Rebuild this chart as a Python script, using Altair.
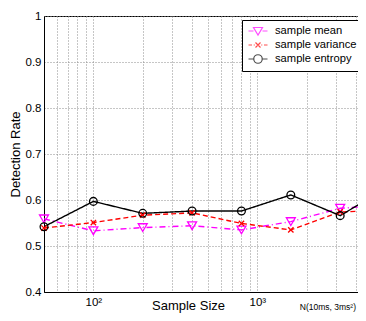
import altair as alt
import pandas as pd

sample_sizes = [50, 100, 200, 400, 800, 1600, 3200, 6400]
sample_mean = [0.559, 0.533, 0.540, 0.544, 0.535, 0.553, 0.582, 0.589]
sample_variance = [0.539, 0.551, 0.567, 0.572, 0.549, 0.535, 0.574, 0.578]
sample_entropy = [0.542, 0.597, 0.571, 0.576, 0.576, 0.611, 0.566, 0.630]

series_names = ["sample mean", "sample variance", "sample entropy"]
series_colors = ["#ff00ff", "#ff0000", "#000000"]
series_dash = [[6, 3, 1, 3], [5, 3], [1, 0]]
series_shapes = ["triangle-down", "M-0.8,-0.8L0.8,0.8M-0.8,0.8L0.8,-0.8", "circle"]
series_sizes = [80, 45, 60]
legend_paths = [
    "M-1.9,0L-0.9,0M0.9,0L1.9,0M-0.9,-0.7L0.9,-0.7L0,0.8Z",
    "M-1.9,0L-1.2,0M-0.85,0L-0.65,0M0.65,0L0.85,0M1.2,0L1.9,0"
    "M-0.5,-0.5L0.5,0.5M-0.5,0.5L0.5,-0.5",
    "M-1.9,0L-0.85,0M0.85,0L1.9,0M0.85,0A0.85,0.85 0 1,1 -0.85,0A0.85,0.85 0 1,1 0.85,0",
]

y_ticks = [0.4, 0.5, 0.6, 0.7, 0.8, 0.9, 1.0]
x_grid = [50, 60, 70, 80, 90, 100, 200, 300, 400, 500, 600, 700, 800, 900,
          1000, 2000, 3000, 4000]
note_text = ["N(10ms, 3ms²)"]

rows = []
for name, vals in zip(series_names, [sample_mean, sample_variance, sample_entropy]):
    for n, v in zip(sample_sizes, vals):
        rows.append({"N": n, "rate": v, "series": name})
df = pd.DataFrame(rows)

FONT = "Liberation Sans"

x_scale = alt.Scale(type="log", domain=[50, 4110], nice=False)
y_scale = alt.Scale(domain=[0.4, 1.0], nice=False, zero=False)

x_enc = alt.X(
    "N:Q", scale=x_scale,
    axis=alt.Axis(
        values=x_grid,
        labelExpr="datum.value == 100 ? '10²' : datum.value == 1000 ? '10³' : ''",
        title="Sample Size", ticks=False, grid=True, gridDash=[1, 2],
        gridColor="#8c8c8c", labelFontSize=11.5, titleFontSize=13,
        titleFontWeight="normal", titleX=144, titleY=17.5,
        titleBaseline="alphabetic", domainColor="black", labelPadding=4,
        labelOverlap=False, labelFlush=False, labelColor="black",
        titleColor="black",
    ),
)
y_enc = alt.Y(
    "rate:Q", scale=y_scale,
    axis=alt.Axis(
        values=y_ticks, format="~g", title="Detection Rate", ticks=False,
        grid=True, gridDash=[1, 2], gridColor="#8c8c8c", labelFontSize=11.5,
        titleFontSize=13, titleFontWeight="normal", domainColor="black",
        labelPadding=3, titlePadding=3, labelColor="black", titleColor="black",
    ),
)

layers = []
for i, name in enumerate(series_names):
    sub = alt.Chart(df).transform_filter(alt.datum.series == name)
    layers.append(
        sub.mark_line(clip=True, strokeWidth=1.4, color=series_colors[i],
                      strokeDash=series_dash[i]).encode(x=x_enc, y=y_enc)
    )
for i, name in enumerate(series_names):
    sub = alt.Chart(df).transform_filter(
        (alt.datum.series == name) & (alt.datum.N < 4000))
    layers.append(
        sub.mark_point(filled=False, strokeWidth=1.3, opacity=1,
                       color=series_colors[i], shape=series_shapes[i],
                       size=series_sizes[i]).encode(x=x_enc, y=y_enc)
    )

legend = alt.Legend(
    title=None, orient="none", legendX=198, legendY=4, fillColor="white",
    strokeColor="black", padding=5, symbolSize=100, labelFontSize=11.2,
    labelOffset=11, rowPadding=1, labelColor="black", labelFont=FONT,
    symbolStrokeWidth=1.2, symbolFillColor="transparent", symbolOffset=5,
)

legend_layer = alt.Chart(df).transform_filter("false").mark_point(
    filled=False, size=100, strokeWidth=1.2
).encode(
    x=x_enc, y=y_enc,
    color=alt.Color("series:N", sort=series_names,
                    scale=alt.Scale(domain=series_names, range=series_colors),
                    legend=legend),
    shape=alt.Shape("series:N", sort=series_names,
                    scale=alt.Scale(domain=series_names, range=legend_paths),
                    legend=legend),
)
layers.append(legend_layer)

note = alt.Chart(pd.DataFrame({"t": note_text})).mark_text(
    align="right", baseline="alphabetic", fontSize=8.5, font=FONT, color="black"
).encode(x=alt.value(312), y=alt.value(294), text="t:N")
layers.append(note)

chart = alt.layer(*layers).properties(
    width=314, height=276,
    autosize=alt.AutoSizeParams(type="none"),
    padding={"left": 36, "top": 8, "right": 0, "bottom": 21},
).configure(font=FONT).configure_view(stroke="black", strokeWidth=1)

chart.save("out.html", embed_options={"renderer": "svg", "actions": False})
